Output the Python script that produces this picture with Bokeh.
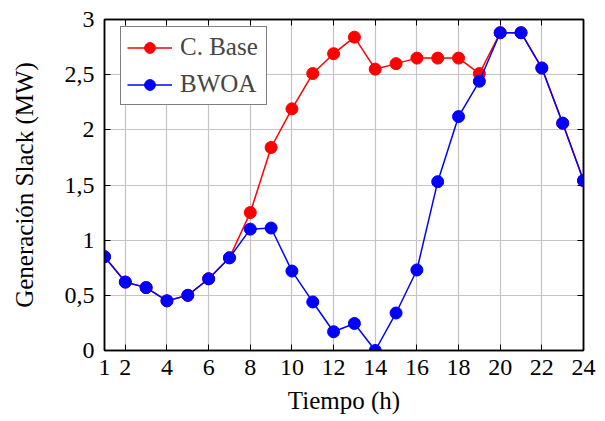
from bokeh.plotting import figure
from bokeh.models import FixedTicker, LinearAxis, Legend, LegendItem, Range1d
from bokeh.embed import file_html
from bokeh.resources import INLINE

hours = list(range(1, 25))
base = [0.85, 0.62, 0.57, 0.45, 0.50, 0.65, 0.84, 1.25, 1.84, 2.19, 2.51, 2.69,
        2.84, 2.55, 2.60, 2.65, 2.65, 2.65, 2.51, 2.88, 2.88, 2.56, 2.06, 1.54]
bwoa = [0.85, 0.62, 0.57, 0.45, 0.50, 0.65, 0.84, 1.10, 1.11, 0.72, 0.44, 0.17,
        0.245, 0.0, 0.34, 0.73, 1.53, 2.12, 2.44, 2.88, 2.88, 2.56, 2.06, 1.54]
x_ticks = [1, 2, 4, 6, 8, 10, 12, 14, 16, 18, 20, 22, 24]
y_ticks = [0, 0.5, 1, 1.5, 2, 2.5, 3]
y_labels = ["0", "0,5", "1", "1,5", "2", "2,5", "3"]
FONT = "Liberation Serif"
FS = "24px"

p = figure(width=597, height=421, output_backend="svg", toolbar_location=None,
           x_range=Range1d(1, 24), y_range=Range1d(0, 3),
           min_border_left=104, min_border_top=19, min_border_right=14, min_border_bottom=71)
p.outline_line_color = "black"
p.outline_line_width = 1.5

r1l = p.line(hours, base, color="#ff0000", line_width=1.5)
r1c = p.scatter(hours, base, color="#ff0000", size=12)
r2l = p.line(hours, bwoa, color="#0000ff", line_width=1.5)
r2c = p.scatter(hours, bwoa, color="#0000ff", size=12)

for ax in [p.xaxis[0], p.yaxis[0]]:
    ax.major_tick_in = 6
    ax.major_tick_out = 0
    ax.minor_tick_line_color = None
    ax.axis_line_color = "black"
    ax.axis_line_width = 1.5
    ax.major_label_text_font = FONT
    ax.major_label_text_font_size = FS
    ax.major_label_text_color = "black"
    ax.axis_label_text_font = FONT
    ax.axis_label_text_font_size = "25px"
    ax.axis_label_text_font_style = "normal"
    ax.axis_label_text_color = "black"

p.xaxis.ticker = FixedTicker(ticks=x_ticks)
p.yaxis.ticker = FixedTicker(ticks=y_ticks)
p.yaxis.major_label_overrides = {t: l for t, l in zip(y_ticks, y_labels)}
p.xaxis.axis_label = "Tiempo (h)"
p.yaxis.axis_label = "Generación Slack (MW)"
p.xaxis.major_label_standoff = 9
p.yaxis.major_label_standoff = 10
p.xaxis.axis_label_standoff = 9
p.yaxis.axis_label_standoff = 24

for loc, ticks in [("right", y_ticks), ("above", x_ticks)]:
    a = LinearAxis(ticker=FixedTicker(ticks=ticks), major_label_text_font_size="0px",
                   major_tick_in=6, major_tick_out=0, minor_tick_line_color=None,
                   axis_line_color="black", axis_line_width=1.5)
    p.add_layout(a, loc)

p.xgrid.ticker = FixedTicker(ticks=x_ticks)
p.grid.grid_line_color = "#c4c4c4"
p.grid.grid_line_width = 1.2

legend = Legend(items=[LegendItem(label="C. Base", renderers=[r1l, r1c]),
                       LegendItem(label="BWOA", renderers=[r2l, r2c])],
                location=(16, 245))
legend.label_text_font = FONT
legend.label_text_font_size = "25px"
legend.border_line_color = "black"
legend.border_line_width = 1.2
legend.margin = 0
legend.padding = 6
legend.spacing = 9
legend.glyph_width = 45
legend.glyph_height = 27
legend.label_height = 27
legend.label_standoff = 8
legend.label_width = 80
legend.background_fill_alpha = 1
p.add_layout(legend)

open("out.html", "w").write(file_html(p, INLINE))
